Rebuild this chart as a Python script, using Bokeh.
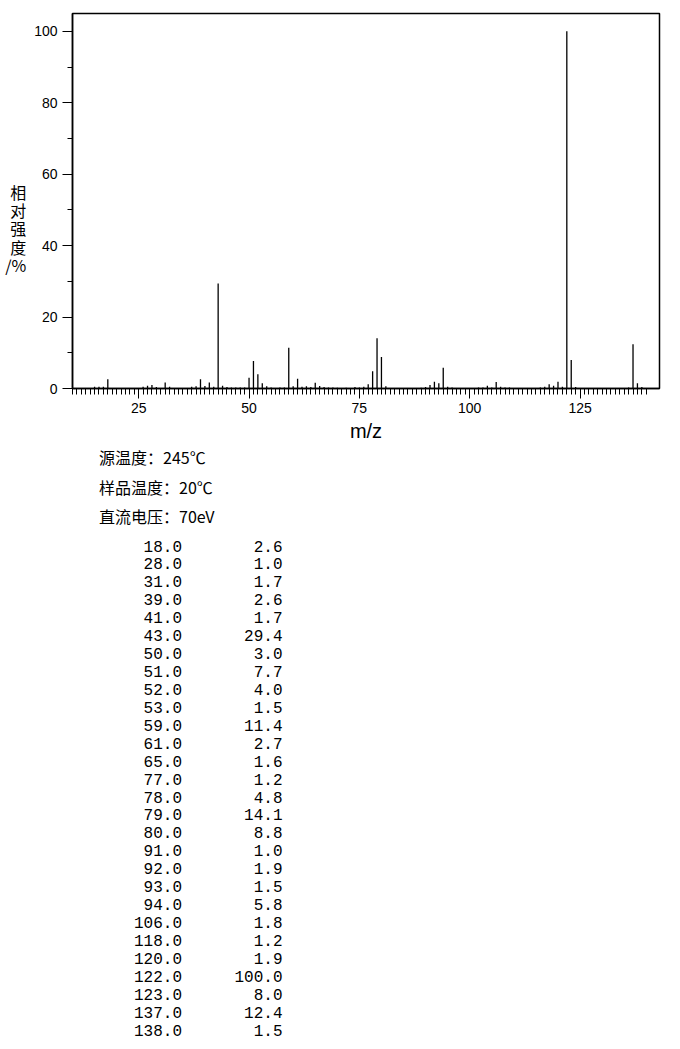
from bokeh.plotting import figure
from bokeh.models import Range1d, FixedTicker
from bokeh.layouts import column
from bokeh.embed import file_html
from bokeh.resources import INLINE
from bokeh.core.properties import value

# ---- data ----
mz_major = [18, 28, 31, 39, 41, 43, 50, 51, 52, 53, 59, 61, 65, 77, 78, 79, 80,
            91, 92, 93, 94, 106, 118, 120, 122, 123, 137, 138]
int_major = [2.6, 1.0, 1.7, 2.6, 1.7, 29.4, 3.0, 7.7, 4.0, 1.5, 11.4, 2.7, 1.6,
             1.2, 4.8, 14.1, 8.8, 1.0, 1.9, 1.5, 5.8, 1.8, 1.2, 1.9, 100.0, 8.0,
             12.4, 1.5]
mz_minor = [15, 16, 17, 26, 27, 29, 32, 37, 38, 40, 42, 44, 45, 46, 47, 48, 49,
            54, 55, 57, 58, 60, 62, 63, 64, 66, 67, 68, 69, 70, 72, 74, 75, 76,
            81, 89, 90, 95, 96, 102, 103, 104, 105, 107, 108, 109, 116, 117,
            119, 121, 124, 136, 139]
int_minor = [0.5, 0.5, 0.5, 0.5, 0.8, 0.4, 0.5, 0.5, 0.6, 0.7, 0.5, 0.8, 0.4,
             0.3, 0.3, 0.3, 0.3, 0.6, 0.3, 0.3, 0.3, 0.6, 0.5, 0.6, 0.4, 0.7,
             0.4, 0.3, 0.3, 0.2, 0.2, 0.4, 0.3, 0.5, 0.6, 0.2, 0.4, 0.5, 0.3,
             0.3, 0.3, 0.8, 0.3, 0.5, 0.3, 0.3, 0.3, 0.5, 0.8, 0.5, 0.4, 0.3,
             0.4]
x_major_ticks = [25, 50, 75, 100, 125]
x_minor_ticks = list(range(10, 141))
y_major_ticks = [0, 20, 40, 60, 80, 100]
y_minor_ticks = [10, 30, 50, 70, 90]
y_label_chars = ["相", "对", "强", "度", "/%"]
x_label = "m/z"
info_lines = ["源温度：245℃", "样品温度：20℃", "直流电压：70eV"]

X0, X1 = 10, 143
Y0, Y1 = 0, 105
FRAME_W, FRAME_H = 587, 376
BL, BR, BT, BB = 72, 13, 13, 55

p = figure(width=BL + FRAME_W + BR, height=BT + FRAME_H + BB,
           x_range=Range1d(X0, X1), y_range=Range1d(Y0, Y1),
           output_backend="svg", toolbar_location=None,
           min_border_left=BL, min_border_right=BR,
           min_border_top=BT, min_border_bottom=BB)
p.grid.visible = False
p.outline_line_color = "black"
p.outline_line_width = 1.5
p.background_fill_color = "white"

mz_all = mz_major + mz_minor
int_all = int_major + int_minor
p.segment(x0=mz_all, y0=[0] * len(mz_all), x1=mz_all, y1=int_all,
          line_color="black", line_width=1.3)

for ax in (p.xaxis[0], p.yaxis[0]):
    ax.axis_line_color = "black"
    ax.axis_line_width = 1.5
    ax.major_tick_line_color = "black"
    ax.minor_tick_line_color = "black"
    ax.major_tick_line_width = 1
    ax.minor_tick_line_width = 1
    ax.major_tick_in = 0
    ax.minor_tick_in = 0
    ax.major_tick_out = 10
    ax.major_label_text_font = "Liberation Sans"
    ax.major_label_text_font_size = "14px"
    ax.major_label_text_color = "black"

xa = p.xaxis[0]
xa.ticker = FixedTicker(ticks=x_major_ticks, minor_ticks=x_minor_ticks)
xa.minor_tick_out = 6
xa.major_label_standoff = 4
xa.axis_label = x_label
xa.axis_label_text_font = "Liberation Sans"
xa.axis_label_text_font_size = "20px"
xa.axis_label_text_font_style = "normal"
xa.axis_label_text_color = "black"
xa.axis_label_standoff = 4

ya = p.yaxis[0]
ya.ticker = FixedTicker(ticks=y_major_ticks, minor_ticks=y_minor_ticks)
ya.minor_tick_out = 5
ya.major_label_standoff = 5
# stacked upright characters; leading blank lines push the block down
ya.axis_label = "\n\n\n" + "\n".join(y_label_chars)
ya.axis_label_orientation = "horizontal"
ya.axis_label_text_font = "Noto Sans CJK SC"
ya.axis_label_text_font_size = "16px"
ya.axis_label_text_font_style = "normal"
ya.axis_label_text_color = "black"
ya.axis_label_text_line_height = 0.76
ya.axis_label_standoff = 5

# ---- text block below (data coordinates = page pixels) ----
Q_H = 597
q = figure(width=BL + FRAME_W + BR, height=Q_H,
           x_range=Range1d(BL, BL + FRAME_W), y_range=Range1d(Q_H, 0),
           output_backend="svg", toolbar_location=None,
           min_border_left=BL, min_border_right=BR,
           min_border_top=0, min_border_bottom=0,
           x_axis_type=None, y_axis_type=None)
q.grid.visible = False
q.outline_line_color = None

Q_TOP = BT + FRAME_H + BB  # page y of q's top edge
info_y = [456, 486.5, 515.5]
q.text(x=[98.5] * len(info_lines), y=[v - Q_TOP for v in info_y],
       text=info_lines, text_font=value("Noto Sans CJK SC"),
       text_font_size="16px", text_align="left", text_baseline="middle",
       text_color="black")

row_y = [545.5 - Q_TOP + 17.93 * i for i in range(len(mz_major))]
q.text(x=[181.5] * len(mz_major), y=row_y, text=[f"{m:.1f}" for m in mz_major],
       text_font=value("Liberation Mono"), text_font_size="16px",
       text_align="right", text_baseline="middle", text_color="black")
q.text(x=[282] * len(int_major), y=row_y, text=[f"{v:.1f}" for v in int_major],
       text_font=value("Liberation Mono"), text_font_size="16px",
       text_align="right", text_baseline="middle", text_color="black")

layout = column(p, q, spacing=0)
open("out.html", "w").write(file_html(layout, INLINE))
